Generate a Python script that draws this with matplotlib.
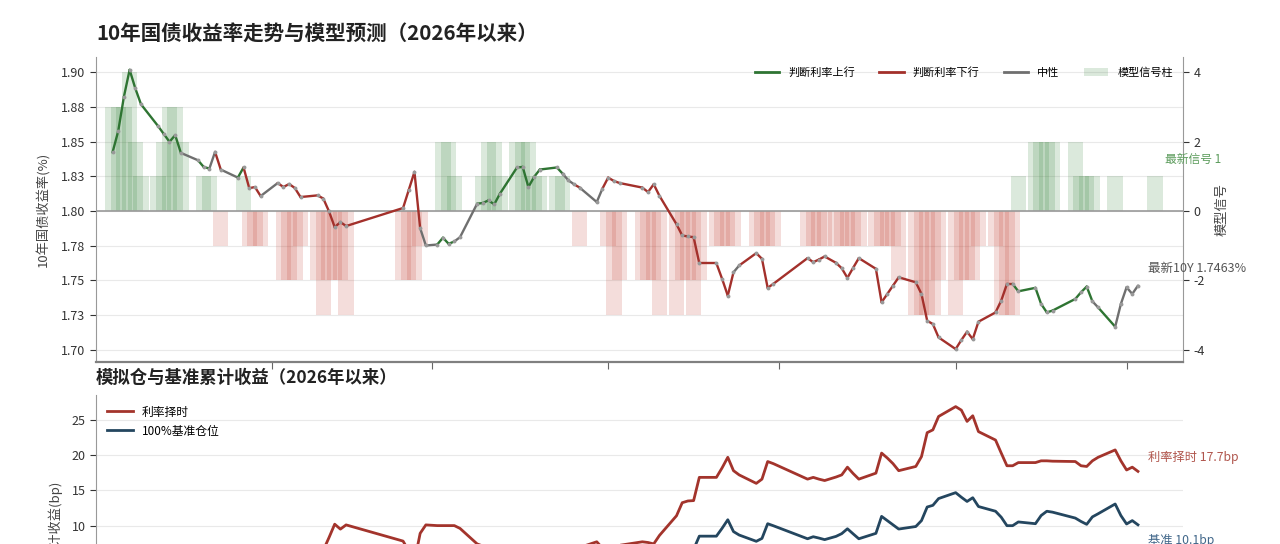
import numpy as np
import pandas as pd
import matplotlib
matplotlib.use("Agg")
import matplotlib.pyplot as plt
import matplotlib.dates as mdates
from matplotlib.lines import Line2D
from matplotlib.patches import Patch
from matplotlib.ticker import MultipleLocator

plt.rcParams['font.family'] = ['Noto Sans CJK SC', 'DejaVu Sans']
plt.rcParams['axes.unicode_minus'] = False

# 交易日历：工作日 + 调休上班日 - 节假日
holidays = ['2026-02-16', '2026-02-17', '2026-02-18', '2026-02-19', '2026-02-20',
            '2026-02-23', '2026-04-06', '2026-05-01', '2026-05-04', '2026-05-05',
            '2026-06-19']
extra_workdays = ['2026-01-04', '2026-02-14', '2026-02-28', '2026-05-09']
trade_days = pd.bdate_range('2026-01-05', '2026-07-03', freq='C', holidays=holidays)
trade_days = trade_days.union(pd.DatetimeIndex(extra_workdays)).sort_values()
# 信号柱多一天（下一交易日的最新信号）
sig_days = trade_days.append(pd.DatetimeIndex(['2026-07-06']))

# 10年国债收益率(%)
yield_10y = [
    1.8422, 1.8576, 1.8824, 1.9017, 1.8884, 1.8769, 1.8612, 1.8555, 1.8499, 1.8547, 1.8419,
    1.8366, 1.8318, 1.8306, 1.8426, 1.8299, 1.8241, 1.8314, 1.8165, 1.8173, 1.8108,
    1.8202, 1.8173, 1.8195, 1.8166, 1.8101, 1.8113, 1.8090, 1.7998, 1.7884, 1.7921, 1.7892,
    1.8022, 1.8152, 1.8282, 1.7877, 1.7752,
    1.7759, 1.7808, 1.7764, 1.7781, 1.7812, 1.8053, 1.8058, 1.8077, 1.8048, 1.8125,
    1.8314, 1.8318, 1.8173, 1.8246, 1.8299, 1.8314, 1.8270, 1.8222, 1.8193, 1.8169,
    1.8065, 1.8162,
    1.8241, 1.8217, 1.8202, 1.8169, 1.8137, 1.8193, 1.8110, 1.7905, 1.7824, 1.7817, 1.7812,
    1.7624, 1.7624, 1.7512, 1.7391, 1.7559, 1.7608, 1.7697, 1.7656, 1.7447, 1.7476,
    1.7661, 1.7632, 1.7651, 1.7673, 1.7627, 1.7588, 1.7519, 1.7591, 1.7661,
    1.7584, 1.7343, 1.7403, 1.7463, 1.7523, 1.7487, 1.7403, 1.7210, 1.7186, 1.7090,
    1.7006, 1.7071, 1.7131, 1.7078, 1.7203, 1.7270, 1.7355, 1.7475, 1.7475, 1.7422,
    1.7447, 1.7331, 1.7270, 1.7283, 1.7367, 1.7415, 1.7456, 1.7350, 1.7306, 1.7167, 1.7331,
    1.7451, 1.7403, 1.7463,
]

# 模型信号（正=判断利率上行，负=判断利率下行）
signal = [
    3, 3, 3, 4, 2, 1, 1, 2, 3, 3, 2, 0, 1, 1, 0, -1, 0, 1, -1, -1, -1,
    0, -2, -2, -2, -1, -2, -3, -2, -2, -2, -3, -2, -2, -2, -1, 0,
    0, 2, 2, 1, 0, 0, 1, 2, 2, 1, 2, 2, 2, 1, 1, 1, 1, 0, 0, -1, 0, 0,
    -1, -3, -2, -2, -2, -2, -3, -3, -2, -2, -3, -2, -1, -1, -1, -1, 0, -1, -1, -1, -1,
    -1, -1, -1, -1, -1, -1, -1, -1, -1, -1, -1, -1, -1, -2, -3, -3, -3, -3, -2,
    -3, -2, -2, -2, -1, -1, -3, -3, -3, 1, 2, 2, 2, 2, 2, 1, 1, 1, 0, 1, 0,
    0, 0, 0, 1,
]

# 累计收益(bp)
strategy = [
    0.0, 0.0, 0.0, 0.0, 0.0, 0.4, 1.2, 1.5, 1.5, 1.5, 1.5, 2.0, 2.5, 2.6, 2.6, 3.9,
    4.5, 4.5, 6.0, 5.9, 6.6,
    5.6, 5.6, 5.2, 5.8, 6.9, 6.0, 6.5, 8.3, 10.2, 9.5, 10.1, 7.8, 6.4, 4.9, 8.9, 10.1,
    10.0, 10.0, 10.0, 10.0, 9.6, 7.4, 7.1, 6.9, 7.1, 6.4, 6.4, 6.4, 6.4, 5.9, 5.5,
    5.5, 5.9, 6.4, 6.7, 6.9, 7.7, 6.8,
    6.8, 7.0, 7.2, 7.7, 7.6, 7.4, 8.6, 11.4, 13.25, 13.5, 13.55, 16.85,
    16.85, 18.2, 19.7, 17.8, 17.2, 16.0, 16.6, 19.1, 18.8,
    16.6, 16.85, 16.6, 16.4, 16.9, 17.2, 18.3, 17.4, 16.6,
    17.45, 20.3, 19.6, 18.8, 17.8, 18.4, 19.8, 23.2, 23.6, 25.5,
    26.9, 26.4, 24.8, 25.6, 23.35, 22.15, 20.3, 18.5, 18.5, 18.95,
    18.95, 19.2, 19.2, 19.15, 19.1, 18.5, 18.4, 19.2, 19.7, 20.75, 19.2,
    17.9, 18.3, 17.7,
]
benchmark = [
    0.52, -1.02, -3.50, -5.43, -4.10, -2.95, -1.38, -0.81, -0.25, -0.73, 0.55,
    1.08, 1.56, 1.68, 0.48, 1.75, 2.33, 1.60, 3.09, 3.01, 3.66,
    2.72, 3.01, 2.79, 3.08, 3.73, 3.61, 3.84, 4.76, 5.90, 5.53, 5.82,
    4.52, 3.22, 1.92, 5.97, 7.22,
    7.15, 6.66, 7.10, 6.93, 6.62, 4.21, 4.16, 3.97, 4.26, 3.49,
    1.60, 1.56, 3.01, 2.28, 1.75, 1.60, 2.04, 2.52, 2.81, 3.05, 4.09, 3.12,
    2.33, 2.57, 2.72, 3.05, 3.37, 2.81, 3.64, 5.69, 6.50, 6.57, 6.62, 8.50,
    8.50, 9.62, 10.83, 9.15, 8.66, 7.77, 8.18, 10.27, 9.98,
    8.13, 8.42, 8.23, 8.01, 8.47, 8.86, 9.55, 8.83, 8.13,
    8.90, 11.31, 10.71, 10.11, 9.51, 9.87, 10.71, 12.64, 12.88, 13.84,
    14.68, 14.03, 13.43, 13.96, 12.71, 12.04, 11.19, 9.99, 9.99, 10.52,
    10.27, 11.43, 12.04, 11.91, 11.07, 10.59, 10.18, 11.24, 11.68, 13.07, 11.43,
    10.23, 10.71, 10.11,
]

yticks = [1.700, 1.725, 1.750, 1.775, 1.800, 1.825, 1.850, 1.875, 1.900]
ytick_labels = ['1.70', '1.73', '1.75', '1.78', '1.80', '1.83', '1.85', '1.88', '1.90']

GREEN = '#2e7432'
RED = '#a3302b'
GRAY = '#6f6f6f'


def sig_color(s):
    if s > 0:
        return GREEN
    if s < 0:
        return RED
    return GRAY


fig = plt.figure(figsize=(12.8, 5.44), dpi=100)
ax = fig.add_axes([0.075, 0.3346, 0.8492, 0.5607])
ax2 = ax.twinx()
axb = fig.add_axes([0.075, -0.1862, 0.8492, 0.4601], sharex=ax)

# 信号柱（网格画在信号轴上，压在柱子下面；信号每 1 格正好对应 2.5bp）
bar_colors = ['#2e7d32' if s > 0 else '#c0392b' for s in signal]
ax2.bar(sig_days, signal, width=2.7, color=bar_colors, alpha=0.17, linewidth=0)
ax2.set_ylim((1.6913 - 1.80) / 0.025, (1.911 - 1.80) / 0.025)
ax2.set_yticks([-4, -2, 0, 2, 4])
ax2.yaxis.set_minor_locator(MultipleLocator(1))
ax2.yaxis.grid(True, which='both', color='#e9e9e9', lw=0.8)
ax2.set_axisbelow(True)
ax2.set_ylabel('模型信号', fontsize=9.5, color='#444')
ax2.yaxis.set_label_coords(1.030, 0.5)
ax2.tick_params(axis='y', labelsize=9, colors='#333', length=4)
ax2.tick_params(axis='y', which='minor', length=0)
for side in ['top', 'left', 'bottom']:
    ax2.spines[side].set_visible(False)
ax2.spines['right'].set_color('#999999')

# 收益率曲线，按信号着色
ax.set_zorder(ax2.get_zorder() + 1)
ax.patch.set_visible(False)
ax.axhline(1.80, color='#9a9a9a', lw=1.2, zorder=1)
for k in range(1, len(trade_days)):
    ax.plot(trade_days[k - 1:k + 1], yield_10y[k - 1:k + 1],
            color=sig_color(signal[k]), lw=1.7, solid_capstyle='round', zorder=3)
ax.plot(trade_days, yield_10y, 'o', ms=1.8, color='#999999', zorder=4)

ax.set_ylim(1.6913, 1.911)
ax.set_yticks(yticks)
ax.set_yticklabels(ytick_labels)
ax.set_ylabel('10年国债收益率(%)', fontsize=9.5, color='#444')
ax.yaxis.set_label_coords(-0.042, 0.5)
ax.tick_params(axis='y', labelsize=9, colors='#333', length=4)
ax.tick_params(axis='x', length=5, color='#666', labelbottom=False)
ax.spines['top'].set_visible(False)
ax.spines['right'].set_visible(False)
ax.spines['left'].set_color('#999999')
ax.spines['bottom'].set_color('#808080')
ax.spines['bottom'].set_linewidth(1.6)

x0 = mdates.date2num(pd.Timestamp('2026-01-01'))
ax.set_xlim(x0 + 0.1, x0 + 190.9)
ax.xaxis.set_major_locator(mdates.MonthLocator())

handles = [Line2D([], [], color=GREEN, lw=2), Line2D([], [], color=RED, lw=2),
           Line2D([], [], color=GRAY, lw=2), Patch(color='#2e7d32', alpha=0.17, lw=0)]
ax.legend(handles, ['判断利率上行', '判断利率下行', '中性', '模型信号柱'],
          loc='upper right', ncol=4, frameon=False, fontsize=8,
          handlelength=2.2, columnspacing=2.2, handletextpad=0.8)

ax.annotate(f'最新10Y {yield_10y[-1]:.4f}%', xy=(trade_days[-1], yield_10y[-1]),
            xytext=(7, 12), textcoords='offset points', ha='left', va='center',
            fontsize=9, color='#555555', annotation_clip=False)
ax2.annotate(f'最新信号 {signal[-1]}', xy=(sig_days[-1], signal[-1]),
             xytext=(7, 12), textcoords='offset points', ha='left', va='center',
             fontsize=8.5, color='#5c9c5c', annotation_clip=False)

# 下图：累计收益
axb.plot(trade_days, strategy, color='#a3342c', lw=2.0, label='利率择时')
axb.plot(trade_days, benchmark, color='#24465f', lw=2.0, label='100%基准仓位')
axb.set_ylim(-7.0, 28.55)
axb.yaxis.set_major_locator(MultipleLocator(5))
axb.yaxis.grid(True, color='#e9e9e9', lw=0.8)
axb.set_axisbelow(True)
axb.set_ylabel('累计收益(bp)', fontsize=9.5, color='#444')
axb.yaxis.set_label_coords(-0.031, 0.5)
axb.tick_params(axis='y', labelsize=9, colors='#333', length=4)
axb.tick_params(axis='x', labelbottom=False)
axb.spines['top'].set_visible(False)
axb.spines['right'].set_visible(False)
axb.spines['left'].set_color('#999999')
axb.legend(loc='upper left', frameon=False, fontsize=8.5, handlelength=2.2)
axb.annotate(f'利率择时 {strategy[-1]:.1f}bp', xy=(trade_days[-1], strategy[-1]),
             xytext=(7, 10), textcoords='offset points', ha='left', va='center',
             fontsize=8.8, color='#b0554c', annotation_clip=False)
axb.annotate(f'基准 {benchmark[-1]:.1f}bp', xy=(trade_days[-1], benchmark[-1]),
             xytext=(7, -11), textcoords='offset points', ha='left', va='center',
             fontsize=8.8, color='#41678a', annotation_clip=False)

fig.text(0.075, 1 - 34 / 544, '10年国债收益率走势与模型预测（2026年以来）',
         fontsize=14.8, fontweight='bold', va='center', color='#222222')
fig.text(0.075, 1 - 378 / 544, '模拟仓与基准累计收益（2026年以来）',
         fontsize=12.5, fontweight='bold', va='center', color='#222222')

fig.savefig('out.png', dpi=100)
